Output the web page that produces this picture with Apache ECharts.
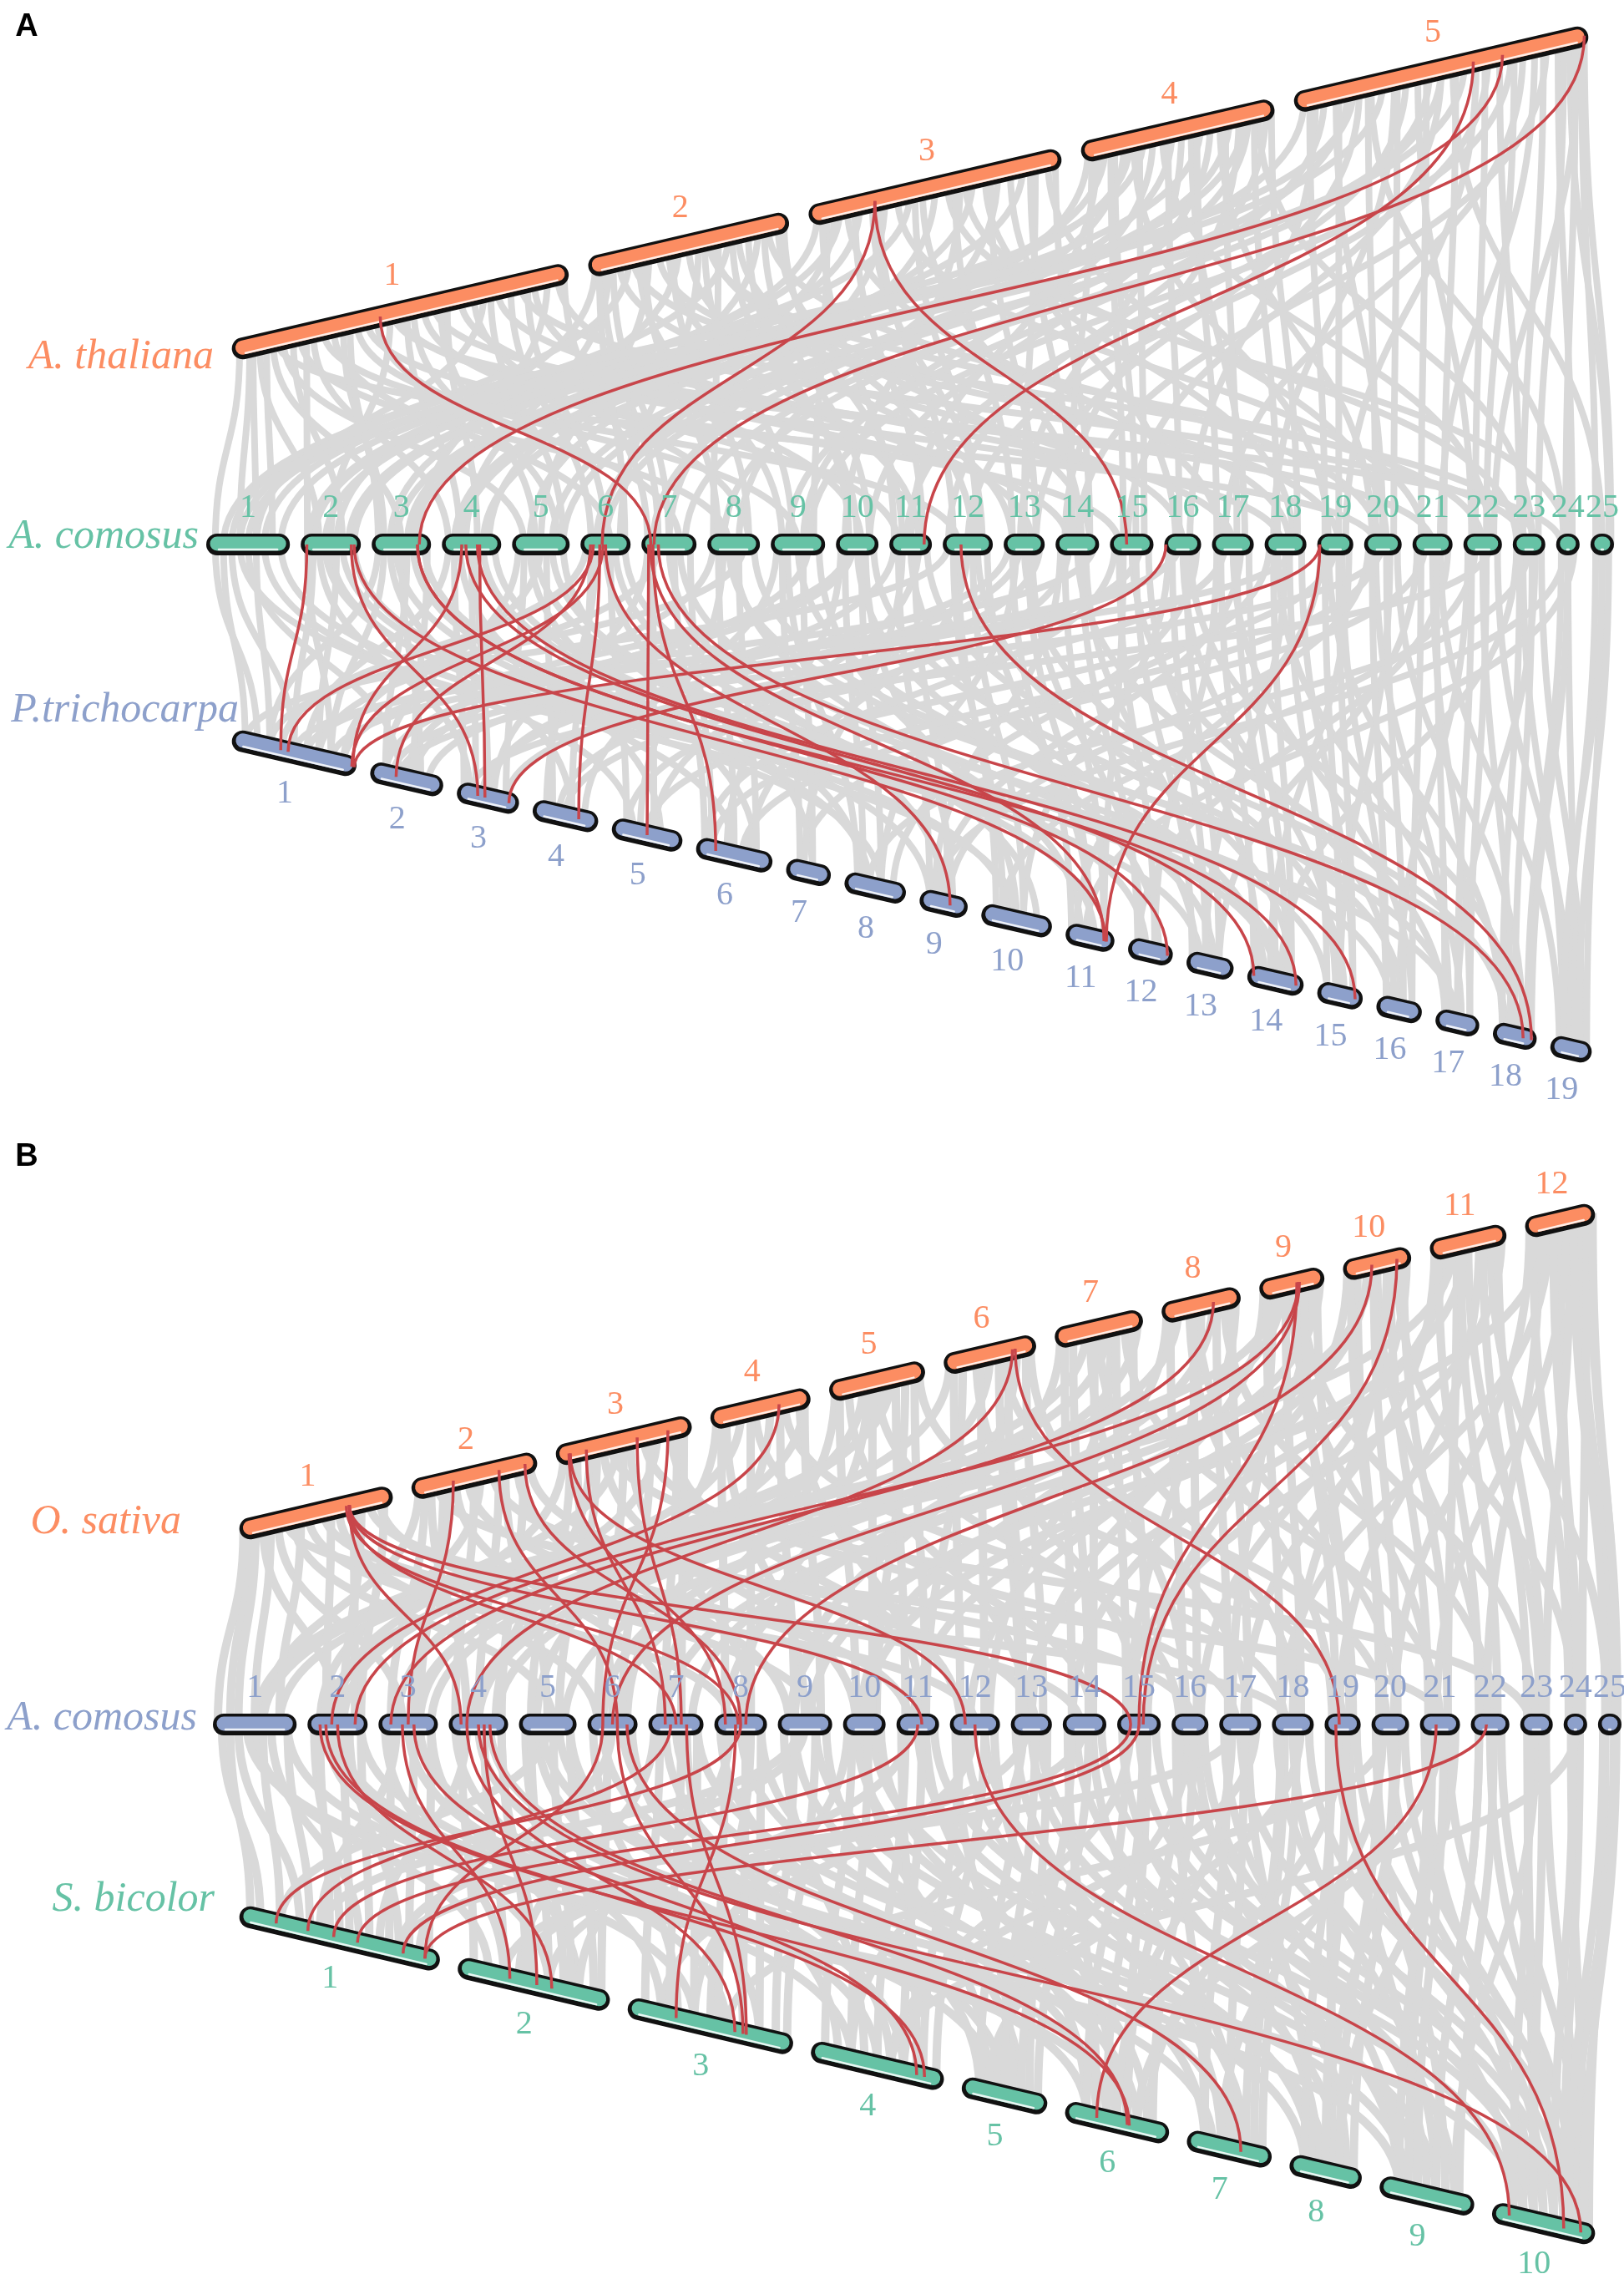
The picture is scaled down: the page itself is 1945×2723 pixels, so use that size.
<!DOCTYPE html>
<html>
<head>
<meta charset="utf-8">
<title>Synteny</title>
<script src="https://cdn.jsdelivr.net/npm/echarts@6/dist/echarts.min.js"></script>
<style>
html, body { margin: 0; padding: 0; background: #fff; }
#chart { width: 1945px; height: 2723px; }
</style>
</head>
<body>
<div id="chart"></div>
<script>
// chromosome lengths (Mb)
var athLen = [31.5, 18.7, 23.6, 18.0, 27.5];
var acoLen = [32.7, 23.3, 23.0, 23.0, 22.3, 19.3, 21.3, 20.3, 21.0, 16.3, 16.3, 19.3, 15.7,
              16.7, 16.7, 14.0, 16.0, 16.0, 13.7, 14.3, 15.3, 14.7, 12.3, 8.7, 8.7];
var ptrLen = [50.7, 29.3, 24.8, 26.2, 28.3, 30.7, 17.6, 24.5, 19.0, 28.3, 19.3, 17.6, 18.6,
              22.4, 17.9, 17.9, 17.2, 17.2, 16.2];
var osaLen = [43.1, 35.2, 38.1, 27.9, 26.7, 25.7, 24.5, 21.9, 17.9, 18.8, 21.2, 19.3];
var sbiLen = [80.7, 61.0, 66.4, 53.2, 33.9, 41.4, 33.6, 28.5, 37.6, 41.0];

// links: [upper, lower], each written as chromosome.fraction (3.25 = chr 3, 25% along)
var grayAthAco = [
  [1.02,1.1],[1.05,1.4],[1.08,2.3],[1.1,1.8],[1.12,3.5],[1.15,5.2],[1.18,2.7],[1.2,8.4],[1.24,4.1],[1.27,12.3],
  [1.3,6.6],[1.33,3.2],[1.37,9.5],[1.4,15.2],[1.43,7.7],[1.47,2.5],[1.5,18.4],[1.54,5.8],[1.57,11.2],[1.6,21.5],
  [1.64,4.6],[1.68,14.3],[1.72,8.8],[1.75,1.6],[1.79,17.5],[1.83,6.2],[1.86,23.4],[1.9,10.6],[1.94,3.8],[1.97,13.7],
  [2.03,2.6],[2.07,7.3],[2.1,4.4],[2.15,16.5],[2.2,1.3],[2.25,9.2],[2.3,5.5],[2.35,19.6],[2.4,11.7],[2.45,3.3],
  [2.5,13.2],[2.55,6.8],[2.6,22.5],[2.65,8.1],[2.7,1.7],[2.75,14.8],[2.8,10.3],[2.85,4.8],[2.9,20.4],[2.95,12.6],
  [3.03,2.2],[3.07,9.8],[3.1,5.3],[3.15,17.2],[3.2,3.6],[3.25,12.8],[3.3,7.5],[3.35,21.3],[3.4,1.5],[3.45,14.6],
  [3.5,6.4],[3.55,24.5],[3.6,10.2],[3.65,4.2],[3.7,18.7],[3.75,8.6],[3.8,16.3],[3.85,2.8],[3.9,13.5],[3.95,20.6],
  [4.03,5.7],[4.08,11.5],[4.12,3.4],[4.17,15.6],[4.22,7.2],[4.27,19.3],[4.32,1.2],[4.37,9.6],[4.42,22.7],[4.47,6.3],
  [4.52,13.4],[4.57,17.8],[4.62,2.4],[4.67,10.8],[4.72,20.2],[4.77,4.7],[4.82,14.2],[4.87,8.3],[4.92,23.6],[4.96,12.1],
  [5.03,3.7],[5.07,16.7],[5.1,9.3],[5.14,20.5],[5.18,6.5],[5.22,13.8],[5.26,24.3],[5.3,2.1],[5.34,18.2],[5.38,11.4],
  [5.42,22.2],[5.46,7.8],[5.5,15.4],[5.54,25.5],[5.58,4.3],[5.62,19.8],[5.66,12.5],[5.7,23.2],[5.74,9.7],[5.78,17.3],
  [5.82,21.7],[5.86,14.5],[5.9,24.7],[5.94,25.8],[5.97,22.8],[5.99,25.9],
  [1.06,1.6],[1.22,2.1],[1.35,3.1],[1.52,4.3],[1.62,5.4],[1.77,5.9],[1.88,6.5],[1.99,7.1],
  [2.05,6.9],[2.12,7.5],[2.28,8.2],[2.42,8.8],[2.58,9.4],[2.72,10.5],[2.88,10.8],[2.98,11.3],
  [3.05,11.1],[3.18,11.8],[3.28,12.2],[3.42,12.7],[3.58,13.2],[3.72,13.8],[3.88,14.4],[3.98,14.8],
  [4.05,14.3],[4.15,15.3],[4.3,15.8],[4.45,16.4],[4.6,17.1],[4.75,17.6],[4.9,18.3],[4.99,18.8],
  [5.05,19.2],[5.15,19.6],[5.25,20.3],[5.35,20.8],[5.45,21.2],[5.55,21.8],[5.65,22.3],[5.75,22.6],
  [5.85,23.3],[5.92,23.8],[5.96,24.4],[5.98,25.2],
  [1.13,20.3],[1.48,24.2],[2.22,23.7],[2.62,18.6],[3.12,1.9],[3.62,23.1],[4.25,2.9],[4.85,4.2],[5.2,1.4],[5.5,5.9]
];
var redAthAco = [[1.44,7.16],[3.26,6.43],[3.26,15.38],[5.61,11.83],[5.71,3.81],[5.99,7.22]];

var grayAcoPtr = [
  [1.1,1.2],[1.3,1.5],[1.5,2.4],[1.7,5.3],[1.9,8.6],[2.1,1.8],[2.3,3.2],[2.5,6.5],[2.7,10.4],[2.9,13.3],
  [3.1,1.3],[3.3,4.6],[3.5,2.7],[3.7,9.2],[3.9,14.5],[4.1,1.6],[4.3,5.7],[4.5,3.3],[4.7,11.6],[4.9,16.3],
  [5.1,2.2],[5.3,6.8],[5.5,1.9],[5.7,12.4],[5.9,8.3],[6.1,1.4],[6.3,4.2],[6.5,7.6],[6.7,10.8],[6.9,15.2],
  [7.1,3.6],[7.3,1.7],[7.5,9.5],[7.7,13.6],[7.9,6.2],[8.1,2.5],[8.3,5.4],[8.5,11.3],[8.7,1.3],[8.9,17.4],
  [9.1,4.8],[9.3,8.2],[9.5,14.3],[9.7,2.6],[9.9,10.5],[10.1,6.4],[10.3,1.9],[10.5,12.7],[10.7,9.7],[10.9,16.6],
  [11.1,3.5],[11.3,7.4],[11.5,13.2],[11.7,5.6],[11.9,18.3],[12.1,1.1],[12.3,10.2],[12.5,6.7],[12.7,14.8],[12.9,11.5],
  [13.1,2.8],[13.3,8.6],[13.5,15.6],[13.7,12.3],[13.9,4.4],[14.1,9.3],[14.3,5.2],[14.5,17.2],[14.7,13.5],[14.9,1.6],
  [15.1,6.1],[15.3,11.8],[15.5,16.4],[15.7,3.8],[15.9,14.2],[16.1,10.6],[16.3,2.3],[16.5,15.4],[16.7,18.5],[16.9,8.8],
  [17.1,12.6],[17.3,4.5],[17.5,16.8],[17.7,9.4],[17.9,14.7],[18.1,7.3],[18.3,17.6],[18.5,13.4],[18.7,1.5],[18.9,15.8],
  [19.1,11.2],[19.3,18.2],[19.5,5.5],[19.7,16.2],[19.9,14.4],[20.1,9.6],[20.3,17.3],[20.5,2.4],[20.7,15.5],[20.9,18.7],
  [21.1,13.7],[21.3,6.6],[21.5,17.8],[21.7,19.2],[21.9,12.2],[22.1,16.5],[22.3,10.3],[22.5,18.4],[22.7,3.2],[22.9,19.5],
  [23.1,14.6],[23.3,19.3],[23.5,8.4],[23.7,17.5],[23.9,19.8],[24.2,18.8],[24.5,19.6],[24.8,11.4],[25.2,19.4],[25.5,19.9],
  [25.8,19.7],
  [1.2,1.1],[1.6,1.3],[2.2,1.5],[2.6,1.7],[3.2,1.8],[3.6,2.2],[3.95,2.6],[4.2,3.1],[4.6,3.5],[5.2,3.8],
  [5.6,4.3],[6.2,4.6],[6.6,5.2],[7.2,5.6],[7.6,6.1],[8.2,6.5],[8.6,6.8],[9.2,7.3],[9.6,7.6],[10.2,8.3],
  [10.6,8.6],[11.2,9.2],[11.6,9.6],[12.2,10.3],[12.6,10.6],[13.2,11.1],[13.6,11.5],[14.2,11.8],[14.6,12.2],[15.2,12.6],
  [15.6,13.1],[16.2,13.4],[16.6,13.7],[17.2,14.1],[17.6,14.5],[18.2,14.8],[18.6,15.2],[19.2,15.5],[19.6,15.8],[20.2,16.2],
  [20.6,16.6],[21.2,16.8],[21.6,17.2],[22.2,17.5],[22.6,17.8],[23.2,18.2],[23.6,18.5],[24.5,18.9],[25.5,19.3],
  [1.4,10.5],[2.4,17.5],[3.4,8.4],[5.4,14.6],[8.4,18.6],[10.4,2.2],[13.4,3.4],[16.4,1.8],[20.4,6.2],[24.4,9.3]
];
var redAcoPtr = [
  [2.09,1.39],[6.25,1.45],[2.85,3.33],[2.9,11.83],[3.78,12.9],[3.78,14.88],[4.33,1.98],[4.64,3.45],
  [6.19,2.35],[6.38,4.71],[6.45,1.97],[7.12,5.5],[7.2,6.25],[6.5,9.64],[7.15,11.8],[4.4,14.1],
  [4.6,15.85],[7.3,18.7],[12.36,18.9],[16.02,3.85],[19.05,11.85],[19.05,1.99]
];

var grayOsaAco = [
  [1.05,1.2],[1.1,1.3],[1.15,2.5],[1.25,3.4],[1.35,5.6],[1.45,8.3],[1.55,12.5],[1.65,6.2],[1.75,2.8],[1.85,14.4],[1.92,9.7],
  [2.05,1.6],[2.15,4.3],[2.25,3.7],[2.35,7.4],[2.45,11.3],[2.55,2.2],[2.65,16.6],[2.75,5.5],[2.85,9.2],[2.95,13.6],
  [3.05,2.4],[3.15,6.5],[3.25,4.8],[3.35,10.3],[3.45,1.5],[3.55,8.7],[3.65,17.4],[3.75,3.3],[3.85,12.2],[3.95,7.6],
  [4.05,5.3],[4.15,9.5],[4.3,2.6],[4.45,14.7],[4.6,6.8],[4.75,18.3],[4.9,11.6],[4.95,3.7],
  [5.05,7.2],[5.2,13.4],[5.35,4.4],[5.5,16.2],[5.65,1.8],[5.8,10.8],[5.95,19.5],[5.4,8.5],
  [6.05,3.6],[6.2,11.7],[6.35,15.5],[6.5,6.3],[6.65,20.4],[6.8,9.3],[6.95,17.7],[6.6,13.2],
  [7.05,8.2],[7.2,14.6],[7.35,2.3],[7.5,18.6],[7.65,12.8],[7.8,21.5],[7.95,5.8],[7.4,16.4],
  [8.05,10.4],[8.2,4.5],[8.35,19.2],[8.5,15.3],[8.65,7.8],[8.8,22.6],[8.95,13.5],[8.45,20.7],
  [9.05,12.4],[9.2,17.3],[9.35,6.6],[9.5,21.3],[9.65,23.4],[9.8,15.7],[9.95,9.6],[9.6,19.8],
  [10.05,14.2],[10.2,20.2],[10.35,11.4],[10.5,22.3],[10.65,18.5],[10.8,24.5],[10.95,16.8],[10.4,7.3],
  [11.05,17.6],[11.2,13.3],[11.35,21.7],[11.5,23.6],[11.65,19.4],[11.8,25.4],[11.95,15.2],[11.45,10.5],
  [12.05,20.6],[12.2,22.4],[12.35,18.2],[12.5,24.3],[12.65,23.8],[12.8,25.6],[12.95,25.85],[12.6,21.4],[12.9,24.8],
  [1.02,1.05],[1.2,1.5],[1.4,1.8],[1.6,2.3],[1.8,2.6],[1.95,2.9],[2.1,3.2],[2.3,3.6],[2.5,4.1],[2.7,4.5],[2.9,4.9],
  [3.1,5.2],[3.3,5.7],[3.5,6.2],[3.7,6.7],[3.9,7.3],[4.1,8.2],[4.4,8.7],[4.7,9.3],[4.95,9.8],
  [5.1,10.3],[5.45,10.7],[5.7,11.2],[5.9,11.7],[6.1,12.2],[6.4,12.7],[6.7,13.3],[6.9,13.8],
  [7.1,14.2],[7.45,14.7],[7.7,15.2],[7.9,15.7],[8.1,16.3],[8.4,16.7],[8.7,17.2],[8.9,17.7],
  [9.1,18.2],[9.4,18.7],[9.7,19.3],[9.9,19.7],[10.1,20.3],[10.45,20.7],[10.7,21.2],[10.9,21.7],
  [11.1,22.2],[11.4,22.7],[11.7,23.2],[11.9,23.7],[12.1,24.2],[12.4,24.6],[12.7,25.3],[12.98,25.8],
  [1.3,18.4],[2.2,21.6],[3.4,23.3],[5.6,2.4],[7.6,3.9],[9.3,1.6],[11.3,4.8],[12.3,9.2]
];
var redOsaAco = [
  [1.72,4.2],[1.72,7.5],[1.72,11.6],[1.72,15.3],[1.7,8.45],[2.33,3.5],[2.7,6.6],[2.91,8.5],
  [3.09,8.2],[3.22,7.3],[3.6,7.6],[3.83,6.3],[3.1,12.3],[4.69,2.4],[6.75,4.3],[6.78,19.4],
  [8.66,3.2],[9.6,2.8],[9.62,6.5],[9.58,15.5],[10.42,8.6],[10.8,15.6]
];

var grayAcoSbi = [
  [1.1,1.1],[1.3,1.3],[1.5,2.2],[1.7,1.6],[1.9,3.4],[2.1,1.5],[2.3,2.6],[2.5,4.3],[2.7,1.8],[2.9,6.2],
  [3.1,2.3],[3.3,1.4],[3.5,3.6],[3.7,5.4],[3.9,2.8],[4.1,3.2],[4.3,1.7],[4.5,4.5],[4.7,7.3],[4.9,2.5],
  [5.1,2.7],[5.3,3.8],[5.5,1.2],[5.7,6.4],[5.9,4.7],[6.1,3.3],[6.3,5.5],[6.5,1.9],[6.7,8.2],[6.9,4.2],
  [7.1,2.4],[7.3,4.6],[7.5,6.7],[7.7,3.7],[7.9,9.3],[8.1,5.2],[8.3,2.8],[8.5,7.5],[8.7,3.5],[8.9,6.3],
  [9.1,4.4],[9.3,6.6],[9.5,1.8],[9.7,8.5],[9.9,5.7],[10.1,3.4],[10.3,7.2],[10.5,5.3],[10.7,9.6],[10.9,6.8],
  [11.1,4.8],[11.3,2.6],[11.5,8.3],[11.7,6.2],[11.9,10.2],[12.1,5.6],[12.3,7.7],[12.5,3.2],[12.7,9.4],[12.9,6.5],
  [13.1,7.4],[13.3,4.3],[13.5,8.7],[13.7,10.4],[13.9,5.8],[14.1,6.3],[14.3,9.2],[14.5,2.3],[14.7,7.6],[14.9,10.5],
  [15.1,8.4],[15.3,4.7],[15.5,9.8],[15.7,6.6],[15.9,10.3],[16.1,7.2],[16.3,10.6],[16.5,5.4],[16.7,8.8],[16.9,9.5],
  [17.1,9.2],[17.3,6.5],[17.5,10.7],[17.7,8.3],[17.9,4.6],[18.1,10.2],[18.3,7.8],[18.5,9.6],[18.7,5.3],[18.9,10.8],
  [19.1,8.6],[19.3,10.4],[19.5,6.8],[19.7,9.4],[19.9,10.9],[20.1,9.7],[20.3,7.4],[20.5,10.5],[20.7,8.5],[20.9,10.7],
  [21.1,10.3],[21.3,9.3],[21.5,6.7],[21.7,10.8],[21.9,8.7],[22.2,9.6],[22.5,10.6],[22.8,10.9],
  [23.2,10.4],[23.5,9.8],[23.8,10.85],[24.3,10.9],[24.7,10.7],[25.3,10.95],[25.7,10.8],
  [1.2,1.05],[1.6,1.2],[1.9,1.35],[2.2,1.45],[2.6,1.55],[2.9,1.65],[3.2,1.75],[3.6,1.85],[3.9,1.95],
  [4.2,2.1],[4.6,2.3],[4.9,2.45],[5.2,2.6],[5.6,2.75],[5.9,2.9],[6.4,2.95],
  [7.2,3.1],[7.6,3.25],[7.9,3.4],[8.2,3.55],[8.6,3.7],[8.9,3.8],[9.3,3.9],[9.7,3.97],
  [10.2,4.1],[10.6,4.3],[11.2,4.5],[11.6,4.7],[12.2,4.85],[12.7,4.95],
  [13.2,5.2],[13.6,5.5],[14.2,5.7],[14.6,5.9],[15.2,6.2],[15.6,6.4],[16.2,6.6],[16.6,6.85],
  [17.2,7.2],[17.6,7.5],[18.2,7.7],[18.6,7.9],[19.2,8.2],[19.6,8.5],[20.2,8.7],[20.6,8.9],
  [21.2,9.2],[21.6,9.4],[22.2,9.6],[22.6,9.85],[23.3,10.2],[23.7,10.4],[24.4,10.6],[25.2,10.75],[25.8,10.9],
  [1.4,6.5],[2.4,9.2],[5.4,10.3],[9.4,1.4],[13.4,2.4],[17.4,1.8],[20.4,3.6],[24.6,4.6]
];
var redAcoSbi = [
  [8.5,1.18],[7.4,1.34],[11.5,1.47],[15.3,1.59],[15.5,1.82],[22.4,1.93],[6.3,1.93],[3.4,2.34],
  [4.6,2.52],[2.5,2.62],[8.4,3.29],[4.3,3.65],[6.6,3.7],[7.7,3.72],[2.3,4.86],[3.6,4.8],
  [21.4,6.3],[4.7,6.6],[6.8,7.64],[12.5,10.16],[19.3,10.7],[4.5,10.87],[2.2,6.62]
];

var W = 1945, H = 2723;
var ORANGE = '#FC8D62', GREEN = '#66C2A5', BLUE = '#8DA0CB';
var RED = '#C8454A', GRAY = '#D9D9D9';
var SERIF = '"Liberation Serif", "DejaVu Serif", serif';

// a track is a straight run of chromosomes from (x0,y0) to (x1,y1)
function makeTrack(len, x0, y0, x1, y1, gap, color, side) {
    var total = 0;
    len.forEach(function (v) { total += v; });
    var s = (x1 - x0 - gap * (len.length - 1)) / total;
    var starts = [], x = x0;
    for (var i = 0; i < len.length; i++) {
        starts.push(x);
        x += len[i] * s + gap;
    }
    return { len: len, x0: x0, y0: y0, m: (y1 - y0) / (x1 - x0), s: s, starts: starts, color: color, side: side };
}

function locate(t, v) {
    var c = Math.floor(v + 1e-6), f = v - c;
    var x = t.starts[c - 1] + t.len[c - 1] * t.s * f;
    return [x, t.y0 + t.m * (x - t.x0)];
}

var tracks = [
    makeTrack(athLen, 279, 420, 1901, 42, 26, ORANGE, -1),
    makeTrack(acoLen, 248, 652, 1932, 652, 15, GREEN, -1),
    makeTrack(ptrLen, 279, 885, 1905, 1262, 19, BLUE, 1),
    makeTrack(osaLen, 288, 1833, 1909, 1452, 25, ORANGE, -1),
    makeTrack(acoLen, 256, 2065, 1941, 2065, 15, BLUE, -1),
    makeTrack(sbiLen, 288, 2293, 1909, 2677, 24, GREEN, 1)
];

function linkRows(top, bottom, pairs) {
    return pairs.map(function (p) {
        return locate(tracks[top], p[0]).concat(locate(tracks[bottom], p[1]));
    });
}

var chromRows = [], labelRows = [];
tracks.forEach(function (t, ti) {
    var k = Math.sqrt(1 + t.m * t.m);
    t.len.forEach(function (l, ci) {
        var xs = t.starts[ci], xe = xs + l * t.s;
        var ys = t.y0 + t.m * (xs - t.x0), ye = t.y0 + t.m * (xe - t.x0);
        chromRows.push([xs, ys, xe, ye, ti]);
        var off = t.side > 0 ? 50 : 44;
        var mx = (xs + xe) / 2, my = (ys + ye) / 2;
        labelRows.push([mx - t.side * t.m / k * off, my + t.side / k * off, ci + 1, ti]);
    });
});

function linkSeries(rows, color, width) {
    return {
        type: 'custom',
        coordinateSystem: 'cartesian2d',
        silent: true,
        clip: false,
        progressive: 0,
        data: rows,
        renderItem: function (params, api) {
            var a = api.coord([api.value(0), api.value(1)]);
            var b = api.coord([api.value(2), api.value(3)]);
            var my = (a[1] + b[1]) / 2;
            return {
                type: 'bezierCurve',
                shape: { x1: a[0], y1: a[1], x2: b[0], y2: b[1], cpx1: a[0], cpy1: my, cpx2: b[0], cpy2: my },
                style: { stroke: color, lineWidth: width, fill: null }
            };
        }
    };
}

var chromSeries = {
    type: 'custom',
    coordinateSystem: 'cartesian2d',
    silent: true,
    clip: false,
    progressive: 0,
    data: chromRows,
    renderItem: function (params, api) {
        var a = api.coord([api.value(0), api.value(1)]);
        var b = api.coord([api.value(2), api.value(3)]);
        var color = tracks[api.value(4)].color;
        var dx = b[0] - a[0], dy = b[1] - a[1], L = Math.sqrt(dx * dx + dy * dy);
        var ux = dx / L, uy = dy / L, nx = -uy, ny = ux, r = 12;
        var p = [a[0] + ux * r, a[1] + uy * r], q = [b[0] - ux * r, b[1] - uy * r];
        function seg(o, shrink) {
            return { x1: p[0] + nx * o + ux * shrink, y1: p[1] + ny * o + uy * shrink,
                     x2: q[0] + nx * o - ux * shrink, y2: q[1] + ny * o - uy * shrink };
        }
        return {
            type: 'group',
            children: [
                { type: 'line', shape: seg(0, 0), style: { stroke: '#111', lineWidth: 26, lineCap: 'round' } },
                { type: 'line', shape: seg(-1, 0), style: { stroke: color, lineWidth: 17, lineCap: 'round' } },
                { type: 'line', shape: seg(6, 2), style: { stroke: 'rgba(255,255,255,0.85)', lineWidth: 2.5, lineCap: 'round' } }
            ]
        };
    }
};

var labelSeries = {
    type: 'custom',
    coordinateSystem: 'cartesian2d',
    silent: true,
    clip: false,
    progressive: 0,
    data: labelRows,
    renderItem: function (params, api) {
        var c = api.coord([api.value(0), api.value(1)]);
        return {
            type: 'text',
            x: c[0],
            y: c[1],
            style: {
                text: String(api.value(2)),
                fill: tracks[api.value(3)].color,
                fontSize: 40,
                fontFamily: SERIF,
                align: 'center',
                verticalAlign: 'middle'
            }
        };
    }
};

function speciesText(text, x, y, color) {
    return {
        type: 'text', x: x, y: y, silent: true, z: 100,
        style: { text: text, fill: color, fontSize: 50, fontStyle: 'italic', fontFamily: SERIF,
                 align: 'right', verticalAlign: 'middle' }
    };
}
function panelText(text, x, y) {
    return {
        type: 'text', x: x, y: y, silent: true, z: 100,
        style: { text: text, fill: '#000', fontSize: 38, fontWeight: 'bold',
                 fontFamily: '"Liberation Sans", Arial, sans-serif', align: 'center', verticalAlign: 'middle' }
    };
}

var chart = echarts.init(document.getElementById('chart'), null, { renderer: 'canvas' });
chart.setOption({
    animation: false,
    backgroundColor: '#fff',
    grid: { left: 0, right: 0, top: 0, bottom: 0 },
    xAxis: { type: 'value', min: 0, max: W, show: false },
    yAxis: { type: 'value', min: 0, max: H, inverse: true, show: false },
    graphic: [
        panelText('A', 32, 33),
        panelText('B', 32, 1386),
        speciesText('A. thaliana', 256, 428, ORANGE),
        speciesText('A. comosus', 238, 643, GREEN),
        speciesText('P.trichocarpa', 286, 851, BLUE),
        speciesText('O. sativa', 217, 1823, ORANGE),
        speciesText('A. comosus', 236, 2058, BLUE),
        speciesText('S. bicolor', 257, 2275, GREEN)
    ],
    series: [
        linkSeries(linkRows(0, 1, grayAthAco), GRAY, 8),
        linkSeries(linkRows(1, 2, grayAcoPtr), GRAY, 8),
        linkSeries(linkRows(3, 4, grayOsaAco), GRAY, 10),
        linkSeries(linkRows(4, 5, grayAcoSbi), GRAY, 10),
        chromSeries,
        linkSeries(linkRows(0, 1, redAthAco), RED, 3.5),
        linkSeries(linkRows(1, 2, redAcoPtr), RED, 3.5),
        linkSeries(linkRows(3, 4, redOsaAco), RED, 3.5),
        linkSeries(linkRows(4, 5, redAcoSbi), RED, 3.5),
        labelSeries
    ]
});
</script>
</body>
</html>
